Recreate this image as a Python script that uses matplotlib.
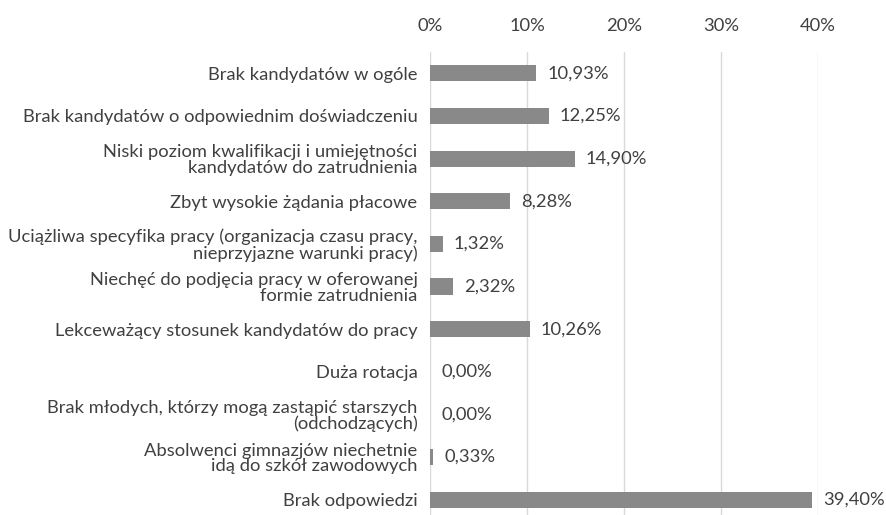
import numpy as np
import matplotlib.pyplot as plt
from matplotlib.ticker import FuncFormatter

plt.rcParams['font.family'] = ['Lato', 'DejaVu Sans']

# data
categories = [
    'Brak kandydatów w ogóle',
    'Brak kandydatów o odpowiednim doświadczeniu',
    'Niski poziom kwalifikacji i umiejętności\nkandydatów do zatrudnienia',
    'Zbyt wysokie żądania płacowe',
    'Uciążliwa specyfika pracy (organizacja czasu pracy,\nnieprzyjazne warunki pracy)',
    'Niechęć do podjęcia pracy w oferowanej\nformie zatrudnienia',
    'Lekceważący stosunek kandydatów do pracy',
    'Duża rotacja',
    'Brak młodych, którzy mogą zastąpić starszych\n(odchodzących)',
    'Absolwenci gimnazjów niechetnie\nidą do szkół zawodowych',
    'Brak odpowiedzi',
]
values = [10.93, 12.25, 14.90, 8.28, 1.32, 2.32, 10.26, 0.00, 0.00, 0.33, 39.40]
xticks = [0, 10, 20, 30, 40]

text_col = '#404040'
bar_col = '#898989'
grid_col = '#d9d9d9'
fs = 13.2

fig = plt.figure(figsize=(8.87, 5.15), dpi=100)
ax = fig.add_axes([0.4848, -0.0117, 0.4374, 0.9107])

y = np.arange(len(categories))
ax.barh(y, values, height=0.38, color=bar_col, zorder=3)

ax.set_xlim(0, 40)
ax.set_ylim(len(categories) - 0.5, -0.5)
ax.set_xticks(xticks)
ax.xaxis.set_major_formatter(FuncFormatter(lambda v, p: '%d%%' % v))
ax.xaxis.tick_top()
ax.set_yticks(y)
ax.set_yticklabels(categories, ha='right', multialignment='right')

ax.tick_params(axis='both', length=0, labelsize=fs, labelcolor=text_col)
ax.tick_params(axis='x', pad=13)
ax.tick_params(axis='y', pad=9)
for lab in ax.get_yticklabels():
    lab.set_linespacing(0.98)

for s in ax.spines.values():
    s.set_visible(False)
ax.grid(axis='x', color=grid_col, linewidth=1, zorder=0)
ax.set_axisbelow(True)

for yi, v in zip(y, values):
    ax.annotate(('%.2f%%' % v).replace('.', ','), (v, yi), xytext=(8, 0),
                textcoords='offset points', va='center', ha='left',
                fontsize=fs, color=text_col, annotation_clip=False)

fig.savefig('out.png', dpi=100)
